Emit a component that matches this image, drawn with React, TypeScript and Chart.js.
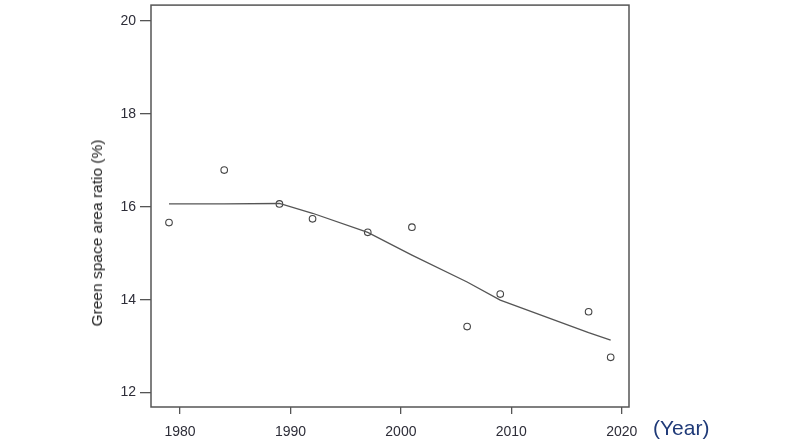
import { useEffect, useRef } from "react";
import Chart from "chart.js/auto";

const years = [1979, 1984, 1989, 1992, 1997, 2001, 2006, 2009, 2017, 2019];
const ratio = [15.66, 16.79, 16.06, 15.74, 15.45, 15.56, 13.42, 14.12, 13.74, 12.76];

// Fitted trend line at the same years.
const fitYears = [1979, 1984, 1989, 1992, 1997, 2001, 2006, 2009, 2017, 2019];
const fitRatio = [16.06, 16.06, 16.07, 15.86, 15.45, 14.96, 14.38, 13.99, 13.29, 13.13];

const xTicks = [1980, 1990, 2000, 2010, 2020];
const yTicks = [12, 14, 16, 18, 20];

const font = "'Liberation Sans', Arial, sans-serif";

export default function App() {
  const canvasRef = useRef<HTMLCanvasElement>(null);

  useEffect(() => {
    document.body.style.margin = "0";
    const canvas = canvasRef.current;
    if (!canvas) return;

    // R-style box around the plotting region.
    const boxPlugin = {
      id: "box",
      afterDraw(chart: Chart) {
        const { ctx, chartArea: a } = chart;
        ctx.save();
        ctx.strokeStyle = "#555";
        ctx.lineWidth = 1.5;
        ctx.strokeRect(a.left, a.top, a.right - a.left, a.bottom - a.top);
        ctx.restore();
      },
    };

    const chart = new Chart(canvas.getContext("2d")!, {
      type: "scatter",
      data: {
        datasets: [
          {
            type: "line",
            label: "fit",
            data: fitYears.map((x, i) => ({ x, y: fitRatio[i] })),
            borderColor: "#555",
            borderWidth: 1.3,
            pointRadius: 0,
            tension: 0,
            fill: false,
          },
          {
            label: "observed",
            data: years.map((x, i) => ({ x, y: ratio[i] })),
            pointStyle: "circle",
            pointRadius: 3.3,
            borderColor: "#444",
            borderWidth: 1.1,
            backgroundColor: "#fff",
          },
        ],
      },
      options: {
        responsive: true,
        maintainAspectRatio: false,
        animation: false,
        layout: { padding: { left: 0, top: 5, right: 171, bottom: 0 } },
        plugins: { legend: { display: false }, tooltip: { enabled: false } },
        scales: {
          x: {
            type: "linear",
            min: 1977.37,
            max: 2020.66,
            afterBuildTicks: (s) => {
              s.ticks = xTicks.map((value) => ({ value }));
            },
            afterFit: (s) => {
              s.height = 37;
              s.paddingLeft = 0;
              s.paddingRight = 0;
            },
            border: { display: false },
            grid: { drawOnChartArea: false, tickLength: 7, color: "#555", lineWidth: 1.3 },
            ticks: {
              color: "#2d2d38",
              padding: 10,
              maxRotation: 0,
              font: { size: 14, family: font },
              callback: (v) => String(v),
            },
          },
          y: {
            min: 11.69,
            max: 20.34,
            afterBuildTicks: (s) => {
              s.ticks = yTicks.map((value) => ({ value }));
            },
            afterFit: (s) => {
              s.width = 151;
              s.paddingTop = 0;
              s.paddingBottom = 0;
            },
            border: { display: false },
            grid: { drawOnChartArea: false, tickLength: 11, color: "#555", lineWidth: 1.3 },
            ticks: {
              color: "#2d2d38",
              padding: 4,
              font: { size: 14, family: font },
              callback: (v) => String(v),
            },
          },
        },
      },
      plugins: [boxPlugin],
    });

    return () => chart.destroy();
  }, []);

  return (
    <div style={{ position: "relative", width: 800, height: 444, background: "#fff" }}>
      <canvas ref={canvasRef} />
      {/* y axis title sits lower than the plot centre in the original */}
      <div
        style={{
          position: "absolute",
          left: 97,
          top: 233,
          transform: "translate(-50%, -50%) rotate(-90deg)",
          whiteSpace: "nowrap",
          fontFamily: font,
          fontSize: 15.5,
          color: "#222",
        }}
      >
        Green space area ratio (%)
      </div>
      <div
        style={{
          position: "absolute",
          left: 653,
          top: 415,
          fontFamily: font,
          fontSize: 21,
          lineHeight: "26px",
          color: "#1f3a78",
        }}
      >
        (Year)
      </div>
    </div>
  );
}
